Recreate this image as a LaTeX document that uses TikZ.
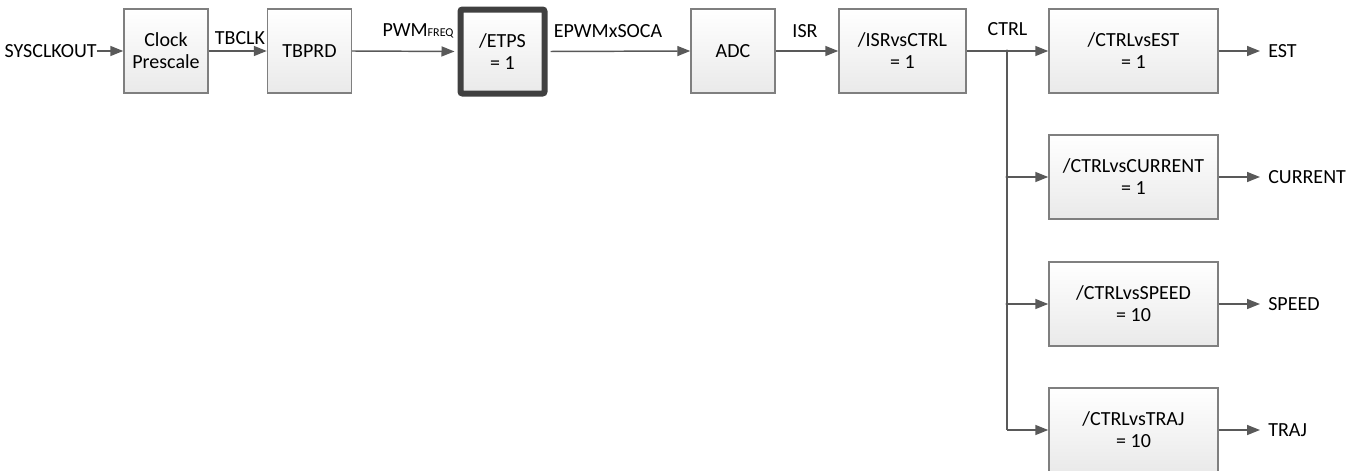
\documentclass[tikz,border=0pt]{standalone}
\usepackage{fontspec}
\setmainfont{Carlito}
\usetikzlibrary{arrows.meta}
\definecolor{linegray}{HTML}{595959}
\definecolor{boxgray}{HTML}{7F7F7F}
\definecolor{thickgray}{HTML}{404040}
\begin{document}
\begin{tikzpicture}[x=0.75pt,y=-0.75pt,
  lbl/.style={font=\fontsize{15}{16.5}\selectfont, inner sep=0pt, text=black},
  blk/.style={draw=boxgray, line width=1.1pt, top color=white, bottom color=gray!17,
    minimum width=63pt, minimum height=63pt, align=center, inner sep=0pt,
    font=\fontsize{15}{16.5}\selectfont},
  wideblk/.style={blk, minimum width=95.25pt},
  ctrlblk/.style={blk, minimum width=126.75pt},
  hiblk/.style={blk, draw=thickgray, line width=4.5pt, rounded corners=1.5pt},
  conn/.style={draw=linegray, line width=1.1pt, -{Triangle[length=9.75pt,width=7.5pt]}},
  outconn/.style={conn, shorten >=6pt},
  wire/.style={draw=linegray, line width=1.1pt},
  jdot/.style={circle, fill=linegray, inner sep=0pt, minimum size=2.6pt}
]
\useasboundingbox (0,0) rectangle (1354,471);

% blocks
\node[blk] (clock) at (166,51) {Clock\\Prescale};
\node[blk] (tbprd) at (309.5,51) {TBPRD};
\node[hiblk] (etps) at (502.5,51.5) {/ETPS\\= 1};
\node[blk] (adc) at (733,51) {ADC};
\node[wideblk] (isr) at (902.5,51) {/ISRvsCTRL\\= 1};
\node[ctrlblk] (est) at (1133.5,51) {/CTRLvsEST\\= 1};
\node[ctrlblk] (cur) at (1133.5,177) {/CTRLvsCURRENT\\= 1};
\node[ctrlblk] (spd) at (1133.5,304) {/CTRLvsSPEED\\= 10};
\node[ctrlblk] (trj) at (1133.5,430) {/CTRLvsTRAJ\\= 10};

% input and output texts
\node[lbl, anchor=east] (sys) at (97,51) {SYSCLKOUT};
\node[lbl, anchor=west] (oest) at (1268,51) {EST};
\node[lbl, anchor=west] (ocur) at (1268,177) {CURRENT};
\node[lbl, anchor=west] (ospd) at (1268,304) {SPEED};
\node[lbl, anchor=west] (otrj) at (1268,430) {TRAJ};

% connector labels
\node[lbl] (ltbclk) at (240,38) {TBCLK};
\node[lbl] (lpwm) at (418,31) {PWM\raisebox{-0.5pt}{\fontsize{9}{9}\selectfont FREQ}};
\node[lbl] (lsoca) at (608,31) {EPWMxSOCA};
\node[lbl] (lisr) at (805,31) {ISR};
\node[lbl] (lctrl) at (1007.5,29) {CTRL};

% junctions
\coordinate (j1) at (1007,51);
\coordinate (j2) at (1007,177);
\coordinate (j3) at (1007,304);
\coordinate (j4) at (1007,430);

% connectors
\draw[conn] (sys.east) -- (clock.west);
\draw[conn] (clock.east) -- (tbprd.west);
\draw[conn, shorten >=2.25pt] (tbprd.east) -- (etps.west);
\draw[conn, shorten <=2.25pt] (etps.east) -- (adc.west);
\draw[conn] (adc.east) -- (isr.west);
\draw[conn] (isr.east) -- (est.west);
\draw[wire] (j1) -- (j4);
\draw[conn] (j2) -- (cur.west);
\draw[conn] (j3) -- (spd.west);
\draw[conn] (j4) -- (trj.west);
\node[jdot] at (j1) {};
\node[jdot] at (j2) {};
\node[jdot] at (j3) {};

\draw[outconn] (est.east) -- (oest.west);
\draw[outconn] (cur.east) -- (ocur.west);
\draw[outconn] (spd.east) -- (ospd.west);
\draw[outconn] (trj.east) -- (otrj.west);
\end{tikzpicture}
\end{document}
